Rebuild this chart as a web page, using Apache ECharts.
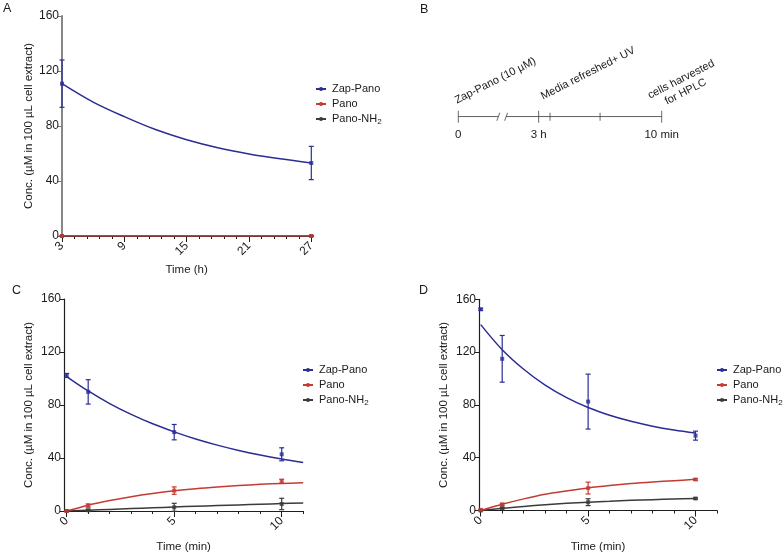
<!DOCTYPE html>
<html><head><meta charset="utf-8">
<script src="https://cdn.jsdelivr.net/npm/echarts@6/dist/echarts.min.js"></script>
<style>html,body{margin:0;padding:0;background:#fff}#c{width:784px;height:555px}</style>
</head><body><div id="c"></div>
<script>
// ---------- DATA ----------
const seriesNames = ['Zap-Pano', 'Pano', 'Pano-NH2'];

// Panel A (time in h)
const A_t = [3, 27];
const A_zap = [110.8, 53.1];
const A_zap_sd = [17.2, 12.1];
const A_pano = [0, 0];
const A_pano_sd = [0, 0];
const A_nh2 = [0, 0];
const A_nh2_sd = [0, 0];
const A_fit_t = [3, 6, 9, 12, 15, 18, 21, 24, 27];
const A_zap_fit = [110.8, 97.4, 86.8, 77.4, 70.0, 64.2, 59.7, 56.1, 53.1];
const A_pano_fit = [0, 0, 0, 0, 0, 0, 0, 0, 0];
const A_nh2_fit = [0, 0, 0, 0, 0, 0, 0, 0, 0];
const A_xLabels = [3, 9, 15, 21, 27];
const A_xMinor = [4.2, 5.4, 6.6, 7.8, 10.2, 11.4, 12.6, 13.8, 16.2, 17.4, 18.6, 19.8, 22.2, 23.4, 24.6, 25.8];

// Panel C (time in min)
const C_t = [0, 1, 5, 10];
const C_zap = [102.3, 89.9, 59.5, 42.8];
const C_zap_sd = [1.5, 9.2, 5.8, 4.9];
const C_pano = [0, 4.1, 15.4, 22.5];
const C_pano_sd = [0.5, 1.2, 2.8, 1.5];
const C_nh2 = [0, 0.5, 2.8, 5.3];
const C_nh2_sd = [0.3, 0.8, 3.0, 4.3];
const C_fit_t = [0, 1, 2, 3, 4, 5, 6, 7, 8, 9, 10, 11];
const C_zap_fit = [101.5, 90.6, 81.1, 72.9, 65.8, 59.7, 54.3, 49.7, 45.7, 42.2, 39.2, 36.6];
const C_pano_fit = [0, 4.4, 7.9, 10.8, 13.2, 15.2, 16.8, 18.1, 19.2, 20.1, 20.8, 21.3];
const C_nh2_fit = [0, 0.6, 1.2, 1.8, 2.4, 3.0, 3.6, 4.1, 4.6, 5.1, 5.6, 6.1];

// Panel D (time in min)
const D_t = [0, 1, 5, 10];
const D_zap = [152.4, 114.9, 82.5, 56.7];
const D_zap_sd = [0.8, 17.7, 20.8, 3.4];
const D_pano = [0.5, 4.6, 17.0, 23.5];
const D_pano_sd = [0.4, 0.8, 4.5, 0.6];
const D_nh2 = [0, 1.8, 6.3, 9.1];
const D_nh2_sd = [0.3, 0.6, 2.6, 0.5];
const D_fit_t = [0, 1, 2, 3, 4, 5, 6, 7, 8, 9, 10];
const D_zap_fit = [140.8, 121.8, 107.0, 95.0, 85.5, 78.0, 72.2, 67.6, 63.9, 61.0, 58.7];
const D_pano_fit = [0, 4.7, 8.8, 12.3, 14.8, 17.1, 18.9, 20.4, 21.6, 22.6, 23.6];
const D_nh2_fit = [0, 1.7, 3.1, 4.3, 5.4, 6.3, 7.0, 7.7, 8.2, 8.7, 9.1];

const min_xLabels = [0, 5, 10];
const min_xMinor = [1, 2, 3, 4, 6, 7, 8, 9, 11];

// Panel B timeline (position units 0-100 along the bar)
const B_majorTicks = [0, 39.5, 100];
const B_minorTicks = [45.1, 69.7];
const B_tickLabels = ['0', '3 h', '10 min'];
const B_breaks = [19.7, 23.5];
const B_events = ['Zap-Pano (10 µM)', 'Media refreshed+ UV', 'cells harvested', 'for HPLC'];

// ---------- STYLE ----------
const FONT = '"Liberation Sans", Arial, Helvetica, sans-serif';
const TXT = '#1a1a1a';
const COL = { 'Zap-Pano': '#2b2d95', 'Pano': '#c43b33', 'Pano-NH2': '#3b3b3b' };

function pairs(xs, ys) { return xs.map((x, i) => [x, ys[i]]); }
function errData(xs, ys, sd) { return xs.map((x, i) => [x, ys[i] - sd[i], ys[i] + sd[i]]); }

function errRender(params, api) {
  const x = api.value(0), lo = api.value(1), hi = api.value(2);
  const p1 = api.coord([x, hi]), p2 = api.coord([x, lo]);
  const w = 2.5;
  const c = api.visual('color');
  const st = { stroke: c, lineWidth: 1.2 };
  return {
    type: 'group', children: [
      { type: 'line', shape: { x1: p1[0], y1: p1[1], x2: p2[0], y2: p2[1] }, style: st },
      { type: 'line', shape: { x1: p1[0] - w, y1: p1[1], x2: p1[0] + w, y2: p1[1] }, style: st },
      { type: 'line', shape: { x1: p2[0] - w, y1: p2[1], x2: p2[0] + w, y2: p2[1] }, style: st }
    ]
  };
}

function panelSeries(xi, yi, t, fitT, sets) {
  const out = [];
  sets.forEach(s => {
    const c = COL[s.name];
    out.push({
      name: s.name, type: 'line', xAxisIndex: xi, yAxisIndex: yi,
      data: pairs(fitT, s.fit), smooth: 0.35, showSymbol: false,
      symbol: 'circle', symbolSize: 4,
      lineStyle: { color: c, width: 1.5 }, itemStyle: { color: c },
      silent: true, animation: false, z: 3
    });
    out.push({
      name: s.name + ' err', type: 'custom', xAxisIndex: xi, yAxisIndex: yi,
      data: errData(t, s.y, s.sd), renderItem: errRender,
      itemStyle: { color: c }, encode: { x: 0, y: [1, 2] },
      silent: true, animation: false, z: 4, clip: false
    });
    out.push({
      name: s.name + ' pts', type: 'scatter', xAxisIndex: xi, yAxisIndex: yi,
      data: pairs(t, s.y), symbol: 'rect', symbolSize: 4,
      itemStyle: { color: c }, silent: true, animation: false, z: 5, clip: false
    });
  });
  return out;
}

function yAx(gi, lineColor, lineW, gap) {
  return {
    type: 'value', gridIndex: gi, min: 0, max: 160, interval: 40,
    axisLine: { show: true, onZero: false, lineStyle: { color: lineColor, width: lineW } },
    axisTick: { show: true, length: 4, lineStyle: { color: lineColor, width: 1 } },
    axisLabel: { fontSize: 12, color: TXT, margin: 3, fontFamily: FONT },
    splitLine: { show: false },
    name: 'Conc. (µM in 100 µL cell extract)', nameLocation: 'middle', nameGap: gap,
    nameTextStyle: { fontSize: 11.5, color: TXT, fontFamily: FONT }
  };
}
function xMajor(gi, min, max, labels, name, gap) {
  return {
    type: 'value', gridIndex: gi, min, max, position: 'bottom',
    axisLine: { show: true, onZero: false, lineStyle: { color: '#1e1e1e', width: 1.2 } },
    axisTick: { show: true, length: 6, customValues: labels, lineStyle: { color: '#1e1e1e' } },
    axisLabel: { customValues: labels, rotate: 45, fontSize: 12, color: TXT, margin: 8, fontFamily: FONT, showMinLabel: true, showMaxLabel: true },
    splitLine: { show: false },
    name, nameLocation: 'middle', nameGap: gap,
    nameTextStyle: { fontSize: 11.5, color: TXT, fontFamily: FONT }
  };
}
function xMinor(gi, min, max, ticks) {
  return {
    type: 'value', gridIndex: gi, min, max, position: 'bottom',
    axisLine: { show: false },
    axisTick: { show: true, length: 3, customValues: ticks, lineStyle: { color: '#1e1e1e' } },
    axisLabel: { show: false }, splitLine: { show: false }
  };
}
function legendAt(left, top) {
  return {
    orient: 'vertical', left, top, padding: 0, itemWidth: 10, itemHeight: 5, itemGap: 1,
    data: seriesNames, selectedMode: false,
    formatter: n => n === 'Pano-NH2' ? '{a|Pano-NH}{b|2}' : n,
    textStyle: {
      fontSize: 11, color: TXT, fontFamily: FONT, lineHeight: 14, padding: [0, 0, 0, 1],
      rich: {
        a: { fontSize: 11, color: TXT, fontFamily: FONT, lineHeight: 14 },
        b: { fontSize: 8, color: TXT, fontFamily: FONT, lineHeight: 14, verticalAlign: 'bottom', padding: [6, 0, 0, 0] }
      }
    }
  };
}

const series = [].concat(
  panelSeries(0, 0, A_t, A_fit_t, [
    { name: 'Pano-NH2', y: A_nh2, sd: A_nh2_sd, fit: A_nh2_fit },
    { name: 'Pano', y: A_pano, sd: A_pano_sd, fit: A_pano_fit },
    { name: 'Zap-Pano', y: A_zap, sd: A_zap_sd, fit: A_zap_fit }
  ]),
  panelSeries(2, 1, C_t, C_fit_t, [
    { name: 'Pano-NH2', y: C_nh2, sd: C_nh2_sd, fit: C_nh2_fit },
    { name: 'Pano', y: C_pano, sd: C_pano_sd, fit: C_pano_fit },
    { name: 'Zap-Pano', y: C_zap, sd: C_zap_sd, fit: C_zap_fit }
  ]),
  panelSeries(4, 2, D_t, D_fit_t, [
    { name: 'Pano-NH2', y: D_nh2, sd: D_nh2_sd, fit: D_nh2_fit },
    { name: 'Pano', y: D_pano, sd: D_pano_sd, fit: D_pano_fit },
    { name: 'Zap-Pano', y: D_zap, sd: D_zap_sd, fit: D_zap_fit }
  ])
);

// Panel B timeline series
const BC = '#454545';
series.push(
  { type: 'line', xAxisIndex: 6, yAxisIndex: 3, data: [[0, 0], [B_breaks[0], 0]], showSymbol: false, lineStyle: { color: BC, width: 1 }, silent: true, animation: false },
  { type: 'line', xAxisIndex: 6, yAxisIndex: 3, data: [[B_breaks[1], 0], [100, 0]], showSymbol: false, lineStyle: { color: BC, width: 1 }, silent: true, animation: false },
  { type: 'scatter', xAxisIndex: 6, yAxisIndex: 3, data: B_majorTicks.map(v => [v, 0]), symbol: 'rect', symbolSize: [1, 12], itemStyle: { color: BC }, silent: true, animation: false, clip: false },
  { type: 'scatter', xAxisIndex: 6, yAxisIndex: 3, data: B_minorTicks.map(v => [v, 0]), symbol: 'rect', symbolSize: [1, 8], itemStyle: { color: BC }, silent: true, animation: false, clip: false },
  { type: 'scatter', xAxisIndex: 6, yAxisIndex: 3, data: B_breaks.map(v => [v, 0]), symbol: 'path://M0,10 L3,0 L4,0 L1,10 Z', symbolSize: [4, 8], itemStyle: { color: BC }, silent: true, animation: false, clip: false }
);

const option = {
  animation: false,
  backgroundColor: '#ffffff',
  textStyle: { fontFamily: FONT },
  grid: [
    { left: 62, top: 16, width: 249.3, height: 220 },
    { left: 64, top: 299, width: 239.2, height: 212 },
    { left: 479, top: 299.3, width: 238, height: 211.2 },
    { left: 458.3, top: 60, width: 203.4, height: 56.7 }
  ],
  xAxis: [
    xMajor(0, 3, 27, A_xLabels, 'Time (h)', 28),
    xMinor(0, 3, 27, A_xMinor),
    xMajor(1, -0.125, 11, min_xLabels, 'Time (min)', 30),
    xMinor(1, -0.125, 11, min_xMinor),
    xMajor(2, -0.08, 11, min_xLabels, 'Time (min)', 30),
    xMinor(2, -0.08, 11, min_xMinor),
    {
      type: 'value', gridIndex: 3, min: 0, max: 100, position: 'bottom',
      axisLine: { show: false }, axisTick: { show: false }, splitLine: { show: false },
      axisLabel: {
        customValues: B_majorTicks, margin: 12, fontSize: 11.5, color: TXT, fontFamily: FONT,
        formatter: v => B_tickLabels[B_majorTicks.indexOf(v)]
      }
    }
  ],
  yAxis: [
    yAx(0, '#7a7a7a', 1.8, 27),
    yAx(1, '#1e1e1e', 1.2, 29),
    yAx(2, '#1e1e1e', 1.2, 29),
    { type: 'value', gridIndex: 3, min: 0, max: 1, show: false }
  ],
  legend: [legendAt(315, 82), legendAt(302, 363), legendAt(716, 363)],
  series,
  graphic: [
    { type: 'text', left: 3, top: 2, style: { text: 'A', fontSize: 12.5, fill: TXT, fontFamily: FONT } },
    { type: 'text', left: 420, top: 3, style: { text: 'B', fontSize: 12.5, fill: TXT, fontFamily: FONT } },
    { type: 'text', left: 12, top: 284, style: { text: 'C', fontSize: 12.5, fill: TXT, fontFamily: FONT } },
    { type: 'text', left: 419, top: 284, style: { text: 'D', fontSize: 12.5, fill: TXT, fontFamily: FONT } },
    { type: 'text', x: 458, y: 106, rotation: 27 * Math.PI / 180, style: { text: B_events[0], fontSize: 11, fill: TXT, fontFamily: FONT, align: 'left', verticalAlign: 'bottom' } },
    { type: 'text', x: 544, y: 102, rotation: 27 * Math.PI / 180, style: { text: B_events[1], fontSize: 11, fill: TXT, fontFamily: FONT, align: 'left', verticalAlign: 'bottom' } },
    { type: 'text', x: 651, y: 101, rotation: 27 * Math.PI / 180, style: { text: B_events[2], fontSize: 11, fill: TXT, fontFamily: FONT, align: 'left', verticalAlign: 'bottom' } },
    { type: 'text', x: 668, y: 107, rotation: 27 * Math.PI / 180, style: { text: B_events[3], fontSize: 11, fill: TXT, fontFamily: FONT, align: 'left', verticalAlign: 'bottom' } }
  ]
};

const chart = echarts.init(document.getElementById('c'));
chart.setOption(option);
</script>
</body></html>
